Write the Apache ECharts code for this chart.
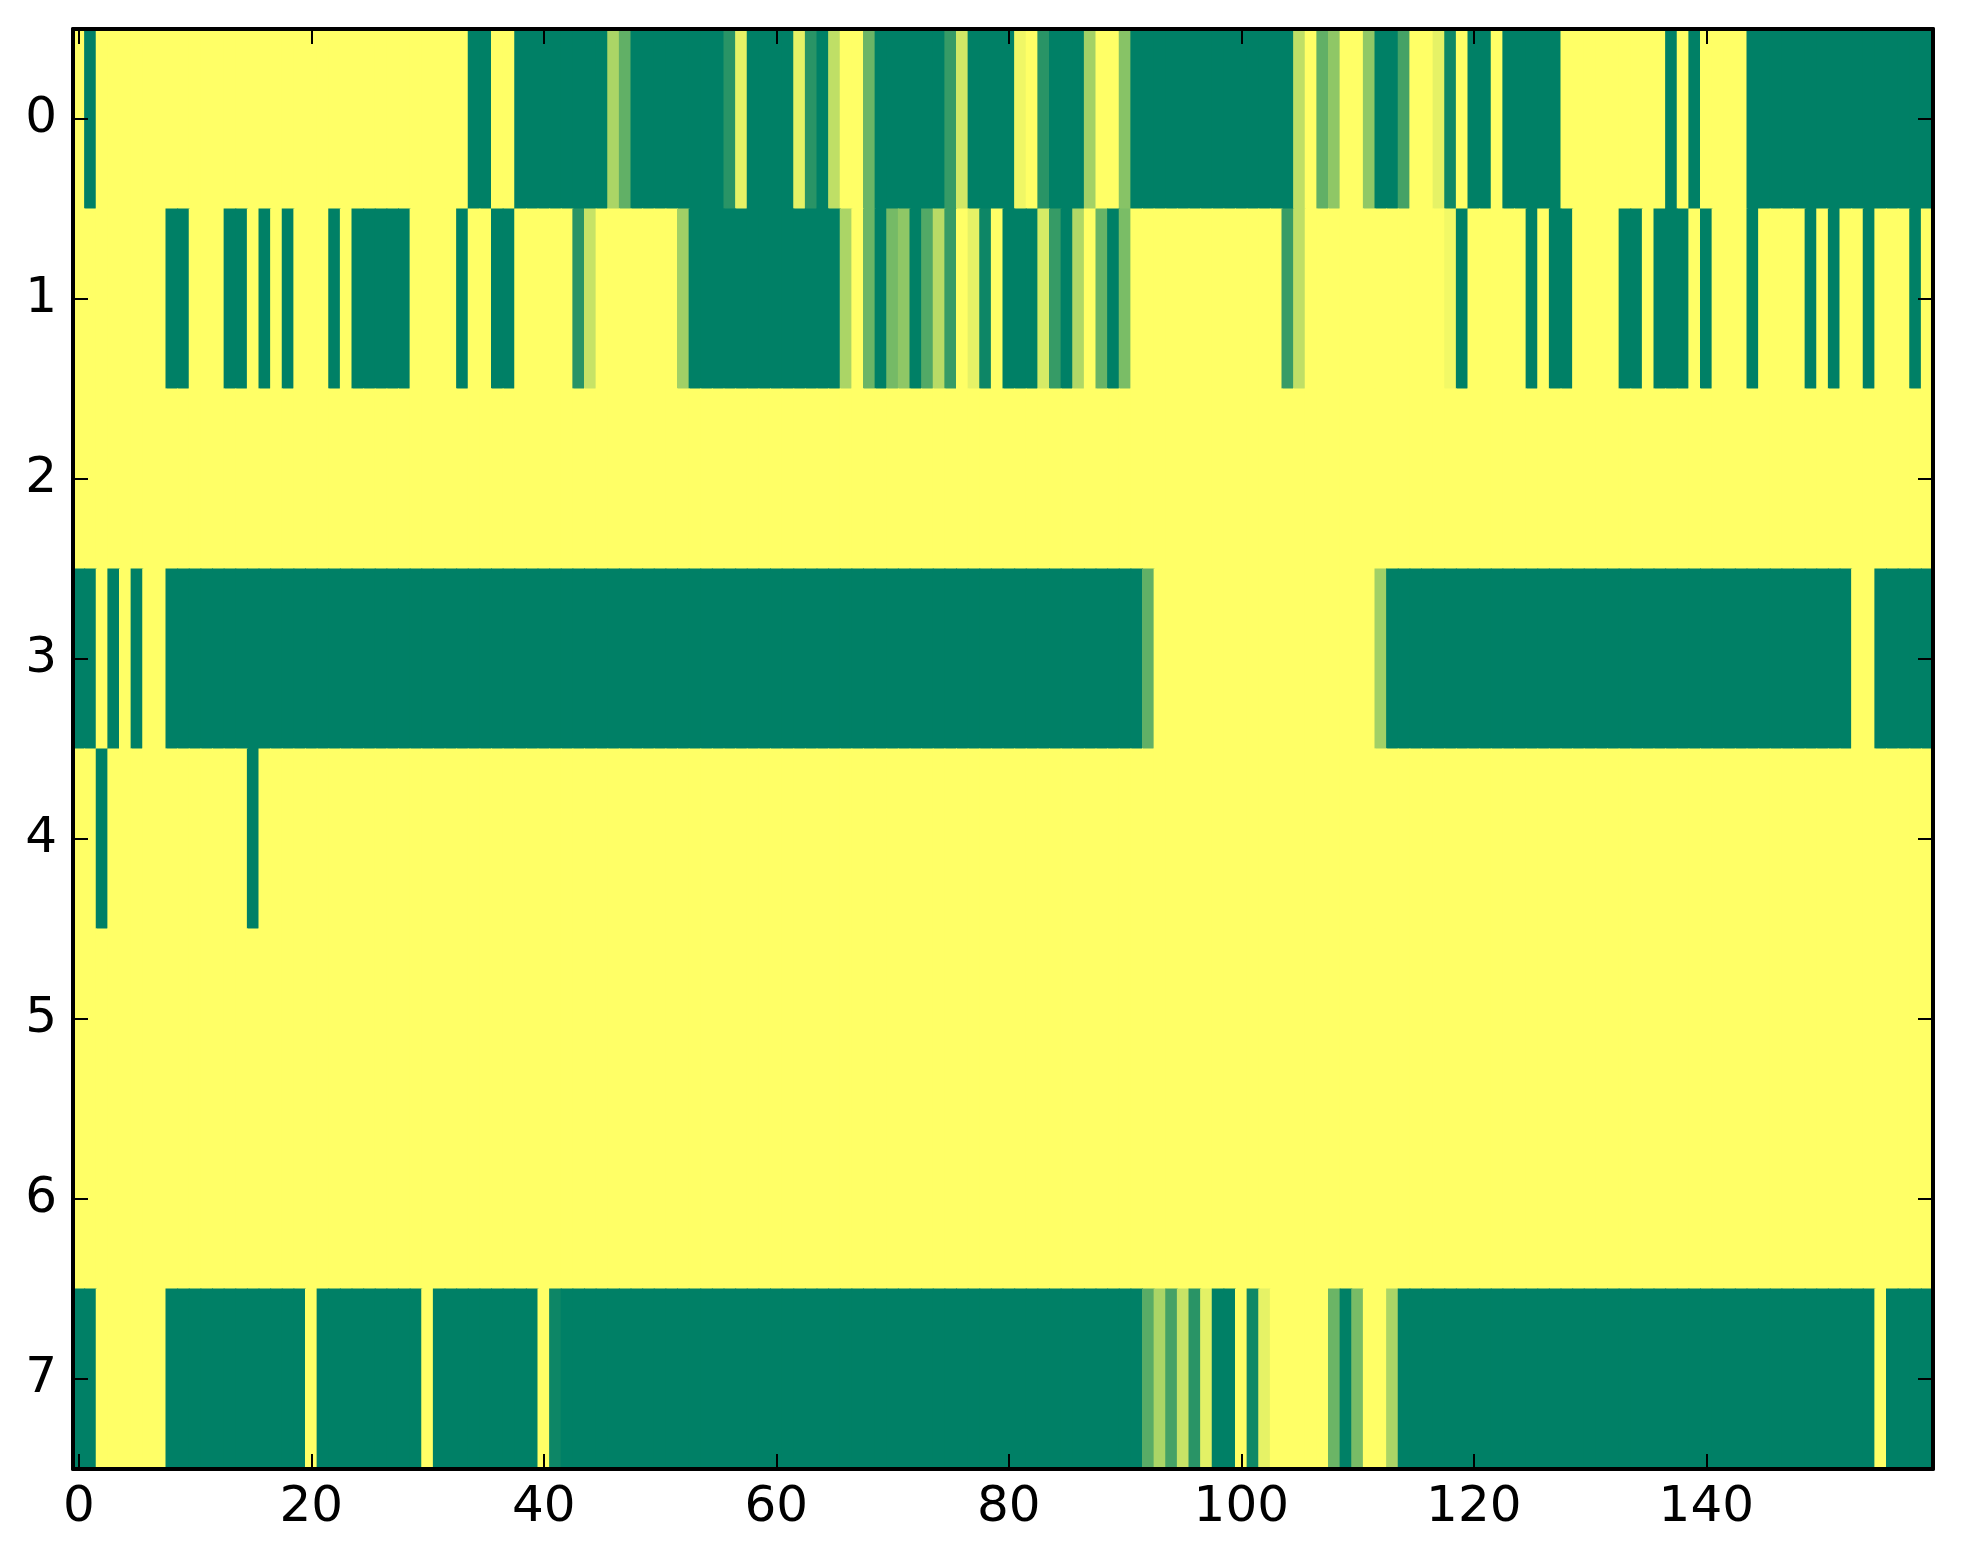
<!DOCTYPE html>
<html>
<head>
<meta charset="utf-8">
<script src="https://cdn.jsdelivr.net/npm/echarts@6/dist/echarts.min.js"></script>
<style>
html,body{margin:0;padding:0;background:#ffffff;}
#chart{width:1963px;height:1564px;}
</style>
</head>
<body>
<div id="chart"></div>
<script>
// Column categories 0..159 and row categories 0..7
const columns = Array.from({length: 160}, (_, i) => String(i));
const rowLabels = ['0','1','2','3','4','5','6','7'];
const xTickLabels = ['0','20','40','60','80','100','120','140'];

// Cell values (0 = green end, 1 = yellow end of the "summer" colormap)
const row0 = [
 1,0,1,1,1,1,1,1,1,1,
 1,1,1,1,1,1,1,1,1,1,
 1,1,1,1,1,1,1,1,1,1,
 1,1,1,1,0,0,1,1,0,0,
 0,0,0,0,0,0,0.67,0.38,0,0,
 0,0,0,0,0,0,0.16,0.9,0,0,
 0,0,0.9,0.16,0,0.75,1,1,0.42,0,
 0,0,0,0,0,0.21,0.82,0,0,0,
 0,0.94,1,0.16,0,0,0,0.64,1,1,
 0.53,0,0,0,0,0,0,0,0,0,
 0,0,0,0,0,0.75,1,0.38,0.56,1,
 1,0.57,0,0,0.27,1,1,0.9,0.06,1,
 0,0,1,0,0,0,0,0,1,1,
 1,1,1,1,1,1,1,0,1,0,
 1,1,1,1,0,0,0,0,0,0,
 0,0,0,0,0,0,0,0,0,0
];
const row1 = [
 1,1,1,1,1,1,1,1,0,0,
 1,1,1,0,0,1,0,1,0,1,
 1,1,0,1,0,0,0,0,0,1,
 1,1,1,0,1,1,0,0,1,1,
 1,1,1,0.16,0.78,1,1,1,1,1,
 1,1,0.63,0,0,0,0,0,0,0,
 0,0,0,0,0,0,0.67,1,0.42,0,
 0.46,0.56,0,0.32,0.72,0.21,1,0.9,0.05,1,
 0,0,0,0.84,0.21,0,0.69,1,0.41,0,
 0.48,1,1,1,1,1,1,1,1,1,
 1,1,1,1,0.22,0.75,1,1,1,1,
 1,1,1,1,1,1,1,1,0.95,0,
 1,1,1,1,1,0,1,0,0,1,
 1,1,1,0,0,1,0,0,0,1,
 0,1,1,1,0,1,1,1,1,0,
 1,0,1,1,0,1,1,1,0,1
];
const row2 = [
 1,1,1,1,1,1,1,1,1,1, 1,1,1,1,1,1,1,1,1,1,
 1,1,1,1,1,1,1,1,1,1, 1,1,1,1,1,1,1,1,1,1,
 1,1,1,1,1,1,1,1,1,1, 1,1,1,1,1,1,1,1,1,1,
 1,1,1,1,1,1,1,1,1,1, 1,1,1,1,1,1,1,1,1,1,
 1,1,1,1,1,1,1,1,1,1, 1,1,1,1,1,1,1,1,1,1,
 1,1,1,1,1,1,1,1,1,1, 1,1,1,1,1,1,1,1,1,1,
 1,1,1,1,1,1,1,1,1,1, 1,1,1,1,1,1,1,1,1,1,
 1,1,1,1,1,1,1,1,1,1, 1,1,1,1,1,1,1,1,1,1
];
const row3 = [
 0,0,1,0,1,0,1,1,0,0,
 0,0,0,0,0,0,0,0,0,0,
 0,0,0,0,0,0,0,0,0,0,
 0,0,0,0,0,0,0,0,0,0,
 0,0,0,0,0,0,0,0,0,0,
 0,0,0,0,0,0,0,0,0,0,
 0,0,0,0,0,0,0,0,0,0,
 0,0,0,0,0,0,0,0,0,0,
 0,0,0,0,0,0,0,0,0,0,
 0,0,0.38,1,1,1,1,1,1,1,
 1,1,1,1,1,1,1,1,1,1,
 1,1,0.63,0,0,0,0,0,0,0,
 0,0,0,0,0,0,0,0,0,0,
 0,0,0,0,0,0,0,0,0,0,
 0,0,0,0,0,0,0,0,0,0,
 0,0,0,1,1,0,0,0,0,0
];
const row4 = [
 1,1,0,1,1,1,1,1,1,1, 1,1,1,1,1,0,1,1,1,1,
 1,1,1,1,1,1,1,1,1,1, 1,1,1,1,1,1,1,1,1,1,
 1,1,1,1,1,1,1,1,1,1, 1,1,1,1,1,1,1,1,1,1,
 1,1,1,1,1,1,1,1,1,1, 1,1,1,1,1,1,1,1,1,1,
 1,1,1,1,1,1,1,1,1,1, 1,1,1,1,1,1,1,1,1,1,
 1,1,1,1,1,1,1,1,1,1, 1,1,1,1,1,1,1,1,1,1,
 1,1,1,1,1,1,1,1,1,1, 1,1,1,1,1,1,1,1,1,1,
 1,1,1,1,1,1,1,1,1,1, 1,1,1,1,1,1,1,1,1,1
];
const row5 = [
 1,1,1,1,1,1,1,1,1,1, 1,1,1,1,1,1,1,1,1,1,
 1,1,1,1,1,1,1,1,1,1, 1,1,1,1,1,1,1,1,1,1,
 1,1,1,1,1,1,1,1,1,1, 1,1,1,1,1,1,1,1,1,1,
 1,1,1,1,1,1,1,1,1,1, 1,1,1,1,1,1,1,1,1,1,
 1,1,1,1,1,1,1,1,1,1, 1,1,1,1,1,1,1,1,1,1,
 1,1,1,1,1,1,1,1,1,1, 1,1,1,1,1,1,1,1,1,1,
 1,1,1,1,1,1,1,1,1,1, 1,1,1,1,1,1,1,1,1,1,
 1,1,1,1,1,1,1,1,1,1, 1,1,1,1,1,1,1,1,1,1
];
const row6 = [
 1,1,1,1,1,1,1,1,1,1, 1,1,1,1,1,1,1,1,1,1,
 1,1,1,1,1,1,1,1,1,1, 1,1,1,1,1,1,1,1,1,1,
 1,1,1,1,1,1,1,1,1,1, 1,1,1,1,1,1,1,1,1,1,
 1,1,1,1,1,1,1,1,1,1, 1,1,1,1,1,1,1,1,1,1,
 1,1,1,1,1,1,1,1,1,1, 1,1,1,1,1,1,1,1,1,1,
 1,1,1,1,1,1,1,1,1,1, 1,1,1,1,1,1,1,1,1,1,
 1,1,1,1,1,1,1,1,1,1, 1,1,1,1,1,1,1,1,1,1,
 1,1,1,1,1,1,1,1,1,1, 1,1,1,1,1,1,1,1,1,1
];
const row7 = [
 0,0,1,1,1,1,1,1,0,0,
 0,0,0,0,0,0,0,0,0,0,
 1,0,0,0,0,0,0,0,0,0,
 1,0,0,0,0,0,0,0,0,0,
 1,0.05,0,0,0,0,0,0,0,0,
 0,0,0,0,0,0,0,0,0,0,
 0,0,0,0,0,0,0,0,0,0,
 0,0,0,0,0,0,0,0,0,0,
 0,0,0,0,0,0,0,0,0,0,
 0,0,0.35,0.67,0.27,0.78,0.16,0.89,0,0,
 1,0.06,0.9,1,1,1,1,1,0.42,0,
 0.47,1,1,0.67,0,0,0,0,0,0,
 0,0,0,0,0,0,0,0,0,0,
 0,0,0,0,0,0,0,0,0,0,
 0,0,0,0,0,0,0,0,0,0,
 0,0,0,0,0,1,0,0,0,0
];
const rows = [row0, row1, row2, row3, row4, row5, row6, row7];

const cells = [];
rows.forEach((r, yi) => r.forEach((v, xi) => cells.push([xi, yi, v])));

const FONT = 'DejaVu Sans';
const showTick = (idx, val) => xTickLabels.indexOf(String(val)) !== -1;

const axisLineStyle = {show: true, onZero: false, lineStyle: {color: '#000', width: 4}};
const xTick = {show: true, inside: true, length: 15, alignWithLabel: true, interval: showTick, lineStyle: {color: '#000', width: 2}};
const yTick = {show: true, inside: true, length: 15, alignWithLabel: true, lineStyle: {color: '#000', width: 2}};

const chart = echarts.init(document.getElementById('chart'), null, {renderer: 'canvas'});
chart.setOption({
  animation: false,
  backgroundColor: '#ffffff',
  grid: {left: 73, top: 29, width: 1860, height: 1440, containLabel: false},
  xAxis: [
    {type: 'category', data: columns, position: 'bottom', z: 10,
     axisLine: axisLineStyle, axisTick: xTick, splitLine: {show: false},
     axisLabel: {show: true, interval: showTick, color: '#000', fontSize: 50, fontFamily: FONT, margin: 14}},
    {type: 'category', data: columns, position: 'top', z: 10,
     axisLine: axisLineStyle, axisTick: xTick, splitLine: {show: false},
     axisLabel: {show: false}}
  ],
  yAxis: [
    {type: 'category', data: rowLabels, inverse: true, position: 'left', z: 10,
     axisLine: axisLineStyle, axisTick: yTick, splitLine: {show: false},
     axisLabel: {show: true, color: '#000', fontSize: 50, fontFamily: FONT, margin: 16}},
    {type: 'category', data: rowLabels, inverse: true, position: 'right', z: 10,
     axisLine: axisLineStyle, axisTick: yTick, splitLine: {show: false},
     axisLabel: {show: false}}
  ],
  visualMap: {show: false, type: 'continuous', min: 0, max: 1, dimension: 2, seriesIndex: 0,
    inRange: {color: ['#008066', '#ffff66']}},
  series: [{
    type: 'custom', xAxisIndex: 0, yAxisIndex: 0, data: cells,
    encode: {x: 0, y: 1},
    renderItem: function (params, api) {
      const p = api.coord([api.value(0), api.value(1)]);
      const s = api.size([1, 1]);
      return {
        type: 'rect',
        shape: {x: p[0] - s[0] / 2 - 0.5, y: p[1] - s[1] / 2 - 0.5, width: s[0] + 1, height: s[1] + 1},
        style: {fill: api.visual('color'), stroke: null, lineWidth: 0}
      };
    },
    emphasis: {disabled: true},
    silent: true
  }]
});
</script>
</body>
</html>
